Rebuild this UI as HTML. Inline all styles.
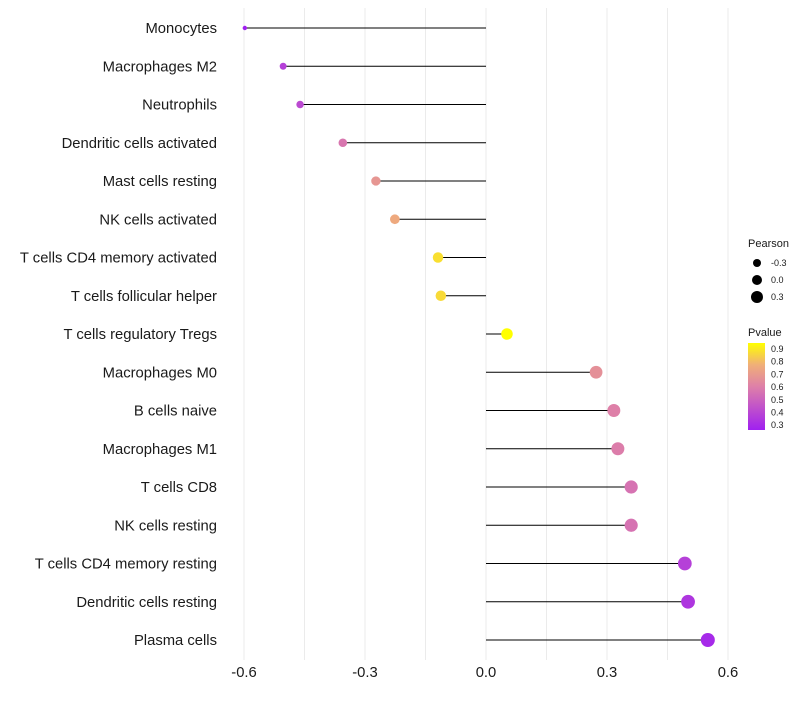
<!DOCTYPE html>
<html><head><meta charset="utf-8"><style>
body{margin:0;background:#fff;font-family:"Liberation Sans",sans-serif;}
</style></head><body>
<svg id="c" width="800" height="700" xmlns="http://www.w3.org/2000/svg" font-family="Liberation Sans, sans-serif"></svg>
<script>
const cells=["Monocytes","Macrophages M2","Neutrophils","Dendritic cells activated","Mast cells resting","NK cells activated","T cells CD4 memory activated","T cells follicular helper","T cells regulatory  Tregs","Macrophages M0","B cells naive","Macrophages M1","T cells CD8","NK cells resting","T cells CD4 memory resting","Dendritic cells resting","Plasma cells"];
const pearson=[-0.598,-0.503,-0.461,-0.355,-0.273,-0.226,-0.119,-0.112,0.052,0.273,0.317,0.327,0.36,0.36,0.493,0.501,0.55];
const pvalue=[0.3,0.4,0.43,0.57,0.67,0.73,0.84,0.83,0.93,0.65,0.6,0.59,0.56,0.56,0.4,0.37,0.33];
const xticks=[-0.6,-0.3,0.0,0.3,0.6];
const xtickLabels=["-0.6","-0.3","0.0","0.3","0.6"];
const NS="http://www.w3.org/2000/svg",svg=document.getElementById('c');
const x=v=>486+v*403.3, y=i=>28+i*38.25;
function mk(t,a,p){const e=document.createElementNS(NS,t);for(const k in a)e.setAttribute(k,a[k]);(p||svg).appendChild(e);return e;}
function lerp(a,b,t){return a.map((v,i)=>Math.round(v+(b[i]-v)*t));}
function col(p){const s=[[0.3,[160,32,240]],[0.6,[222,128,168]],[0.75,[240,175,120]],[0.9,[255,255,0]]];p=Math.max(0.3,Math.min(0.9,p));
 let j=0;while(j<s.length-2&&p>s[j+1][0])j++;const t=(p-s[j][0])/(s[j+1][0]-s[j][0]);const c=lerp(s[j][1],s[j+1][1],t);return `rgb(${c})`;}
const rad=v=>2+5*Math.sqrt(Math.max(0,v+0.6)/1.15);
for(let g=-0.6;g<=0.61;g+=0.15){const l=mk('line',{x1:x(g),x2:x(g),y1:8,y2:660,stroke:'#ebebeb','stroke-width':1});
}
cells.forEach((c,i)=>{
 const t=mk('text',{x:217,y:y(i)+5,'text-anchor':'end','font-size':14.8,fill:'#1a1a1a'});t.textContent=c;
 
 const l=mk('line',{x1:x(0),x2:x(pearson[i]),y1:y(i),y2:y(i),stroke:'#000','stroke-width':1.1});
 
 const d=mk('circle',{cx:x(pearson[i]),cy:y(i),r:rad(pearson[i]),fill:col(pvalue[i])});
 
});
xticks.forEach((v,i)=>{const t=mk('text',{x:x(v),y:677,'text-anchor':'middle','font-size':14.8,fill:'#1a1a1a'});t.textContent=xtickLabels[i];
});
const g=mk('g',{});
mk('text',{x:748,y:247,'font-size':11,fill:'#1a1a1a'},g).textContent='Pearson';
[[-0.3,263,4],[0,280,5],[0.3,297,6]].forEach(([v,yy,r])=>{mk('circle',{cx:757,cy:yy,r:r,fill:'#000'},g);
 mk('text',{x:771,y:yy+3,'font-size':9,fill:'#1a1a1a'},g).textContent=v.toFixed(1);});
mk('text',{x:748,y:336,'font-size':11,fill:'#1a1a1a'},g).textContent='Pvalue';
const df=mk('defs',{});const lg=mk('linearGradient',{id:'pg',x1:0,y1:1,x2:0,y2:0},df);
[0,0.25,0.5,0.75,1].forEach(o=>mk('stop',{offset:o,'stop-color':col(0.3+o*0.6)},lg));
mk('rect',{x:748,y:343,width:17,height:87,fill:'url(#pg)'},g);
[0.9,0.8,0.7,0.6,0.5,0.4,0.3].forEach((v,i)=>{mk('text',{x:771,y:352+i*12.7,'font-size':9,fill:'#1a1a1a'},g).textContent=v.toFixed(1);});
</script>
</body></html>
